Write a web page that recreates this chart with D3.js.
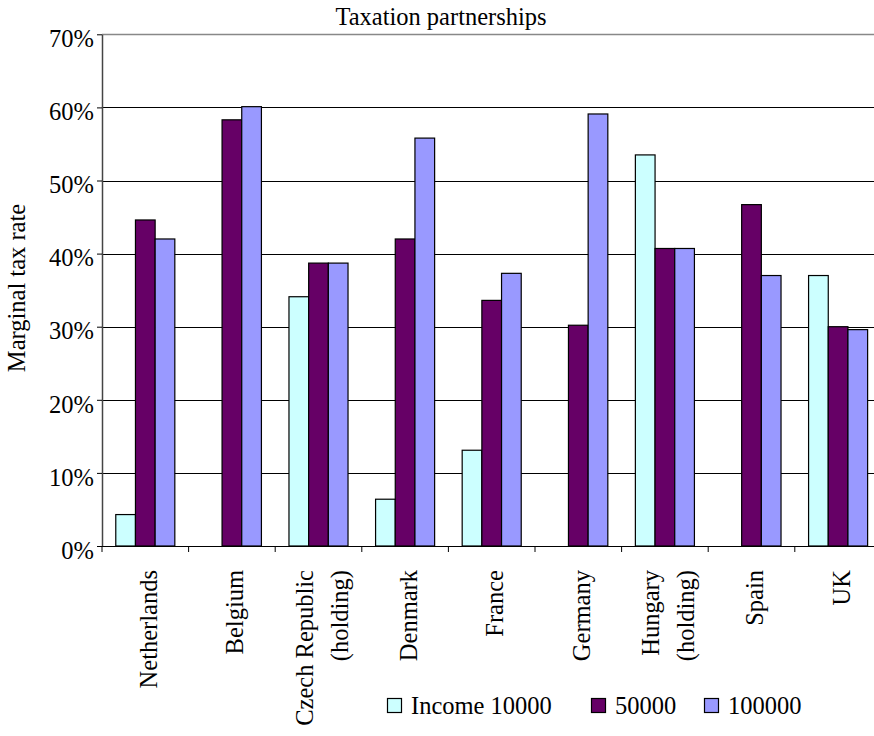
<!DOCTYPE html>
<html>
<head>
<meta charset="utf-8">
<script src="https://cdn.jsdelivr.net/npm/d3@7"></script>
<style>
  html, body { margin: 0; padding: 0; background: #fff; }
  svg { display: block; }
  text { font-family: "Liberation Serif", "Times New Roman", serif; fill: #000; }
</style>
</head>
<body>
<svg id="chart" width="874" height="736"></svg>
<script>
// Countries (line breaks split two-line axis labels)
const categories = [
  "Netherlands", "Belgium", "Czech Republic\n(holding)", "Denmark", "France",
  "Germany", "Hungary\n(holding)", "Spain", "UK"
];
const seriesNames = ["Income 10000", "50000", "100000"];
// Marginal tax rates in percent; null = no bar
const income10000 = [4.3, null, 34.1, 6.4, 13.1, null, 53.5, null, 37.0];
const income50000 = [44.6, 58.3, 38.7, 42.0, 33.6, 30.2, 40.7, 46.7, 30.0];
const income100000 = [42.0, 60.1, 38.7, 55.8, 37.3, 59.1, 40.7, 37.0, 29.6];
const yTicks = [0, 10, 20, 30, 40, 50, 60, 70];
const colors = ["#CCFFFF", "#660066", "#9999FF"];

const seriesValues = [income10000, income50000, income100000];
const rows = categories.map((c, i) => ({
  category: c,
  values: seriesNames.map((s, j) => ({ series: s, index: j, value: seriesValues[j][i] }))
}));

const svg = d3.select("#chart");
const FS = "24.5px";
const plot = { left: 102, right: 881.4, top: 34.3, bottom: 546 };

const x0 = d3.scaleBand().domain(categories).range([plot.left, plot.right]).padding(0);
const x1 = d3.scaleBand().domain(seriesNames).range([0, x0.bandwidth()])
  .paddingInner(0).paddingOuter(0.7);
const y = d3.scaleLinear().domain([0, 70]).range([plot.bottom, plot.top]);

// Horizontal gridlines
svg.append("g").selectAll("line")
  .data(yTicks.filter(t => t > 0))
  .join("line")
  .attr("x1", plot.left).attr("x2", plot.right)
  .attr("y1", d => Math.round(y(d)) + 0.5).attr("y2", d => Math.round(y(d)) + 0.5)
  .attr("stroke", d => d === 70 ? "#888" : "#000")
  .attr("stroke-width", d => d === 70 ? 1.5 : 1);

// Bars
const groups = svg.append("g").selectAll("g")
  .data(rows)
  .join("g")
  .attr("transform", d => `translate(${x0(d.category)},0)`);
groups.selectAll("rect")
  .data(d => d.values.filter(v => v.value != null))
  .join("rect")
  .attr("x", d => x1(d.series))
  .attr("y", d => y(d.value))
  .attr("width", x1.bandwidth())
  .attr("height", d => y(0) - y(d.value))
  .attr("fill", d => colors[d.index])
  .attr("stroke", "#000")
  .attr("stroke-width", 1.2);

// Y axis
const yAxis = svg.append("g")
  .attr("transform", `translate(${plot.left},0)`)
  .call(d3.axisLeft(y).tickValues(yTicks).tickFormat(d => d + "%").tickSize(5).tickSizeOuter(0));
yAxis.select(".domain").attr("stroke", "#444").attr("stroke-width", 1.5);
yAxis.selectAll(".tick line").attr("stroke", "#000");
yAxis.selectAll(".tick text")
  .attr("x", -8).attr("dy", "0.5em")
  .style("font-size", FS)
  .style("font-family", "'Liberation Serif', serif")
  .attr("fill", "#000");

// X axis: ticks at band boundaries
const bounds = categories.map(c => x0(c)).concat([plot.right]);
const xAxis = svg.append("g");
xAxis.append("line")
  .attr("x1", plot.left).attr("x2", plot.right)
  .attr("y1", plot.bottom + 0.5).attr("y2", plot.bottom + 0.5)
  .attr("stroke", "#000").attr("stroke-width", 1.2);
xAxis.selectAll("line.tick")
  .data(bounds)
  .join("line")
  .attr("class", "tick")
  .attr("x1", d => d).attr("x2", d => d)
  .attr("y1", plot.bottom).attr("y2", plot.bottom + 6)
  .attr("stroke", "#000");

// Rotated category labels
const lineGap = 35;
const labels = svg.append("g").selectAll("text")
  .data(categories)
  .join("text")
  .attr("text-anchor", "end")
  .style("font-size", FS)
  .attr("transform", d => {
    const cx = x0(d) + x0.bandwidth() / 2 + 3;
    return `translate(${cx},570) rotate(-90)`;
  });
labels.each(function(d) {
  const lines = d.split("\n");
  const n = lines.length;
  d3.select(this).selectAll("tspan")
    .data(lines)
    .join("tspan")
    .attr("x", 0)
    .attr("y", (l, i) => (i - (n - 1) / 2) * lineGap)
    .attr("dy", "0.35em")
    .text(l => l);
});

// Title and y-axis label
svg.append("text")
  .attr("x", 441).attr("y", 25)
  .attr("text-anchor", "middle")
  .style("font-size", FS)
  .text("Taxation partnerships");
svg.append("text")
  .attr("transform", `translate(25,288) rotate(-90)`)
  .attr("text-anchor", "middle")
  .style("font-size", FS)
  .text("Marginal tax rate");

// Legend
const legendX = [387, 591, 704];
const legend = svg.append("g").selectAll("g")
  .data(seriesNames)
  .join("g")
  .attr("transform", (d, i) => `translate(${legendX[i]},698)`);
legend.append("rect")
  .attr("x", 0.5).attr("y", 0.5)
  .attr("width", 14).attr("height", 14)
  .attr("fill", (d, i) => colors[i])
  .attr("stroke", "#000").attr("stroke-width", 1.2);
legend.append("text")
  .attr("x", 24).attr("y", 16)
  .style("font-size", FS)
  .text(d => d);
</script>
</body>
</html>
